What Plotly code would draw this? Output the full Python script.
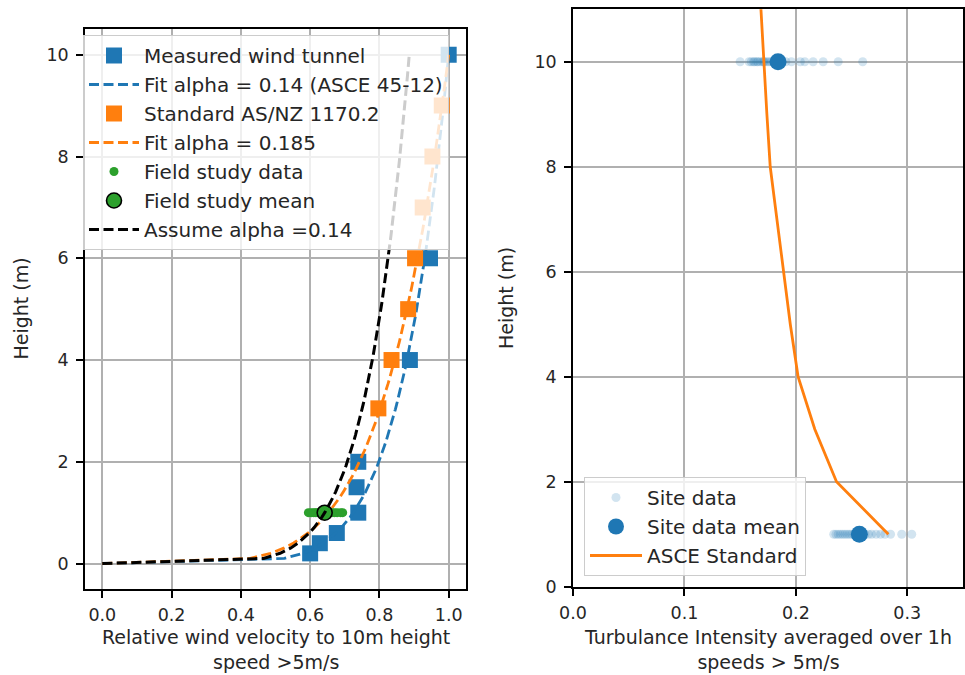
import numpy as np
import plotly.graph_objects as go

BLUE = "#1f77b4"
ORANGE = "#ff7f0e"
GREEN = "#2ca02c"
GRID = "#b0b0b0"
FONT = "DejaVu Sans"

# ---- Left panel: wind velocity profile ----
tunnel_height = [0.2, 0.4, 0.6, 1.0, 1.5, 2.0, 4.0, 6.0, 10.0]
tunnel_velocity = [0.600, 0.628, 0.677, 0.739, 0.734, 0.739, 0.888, 0.946, 1.0]

standard_height = [3.05, 4.0, 5.0, 6.0, 7.0, 8.0, 9.0]
standard_velocity = [0.797, 0.835, 0.883, 0.903, 0.925, 0.953, 0.980]

field_height = 1.0
field_velocity = [0.595, 0.603, 0.610, 0.615, 0.620, 0.625, 0.630, 0.635, 0.638,
                  0.642, 0.645, 0.648, 0.652, 0.657, 0.663, 0.670, 0.678, 0.688, 0.694]
field_mean_velocity = 0.642

alpha_tunnel = 0.14
alpha_standard = 0.185
alpha_assumed = 0.14
ref_height = 10.0
fit_height = np.linspace(0, 10, 100)

# ---- Right panel: turbulence intensity ----
ti_high_height = 10.0
ti_high = [0.150, 0.158, 0.160, 0.162, 0.163, 0.165, 0.166, 0.168, 0.170, 0.171,
           0.172, 0.174, 0.176, 0.178, 0.180, 0.182, 0.186, 0.188, 0.191, 0.196,
           0.204, 0.208, 0.2155, 0.2245, 0.238, 0.260]
ti_high_mean = 0.184

ti_low_height = 1.0
ti_low = [0.234, 0.236, 0.238, 0.240, 0.242, 0.244, 0.246, 0.248, 0.250, 0.252,
          0.254, 0.256, 0.258, 0.260, 0.262, 0.265, 0.268, 0.272, 0.276, 0.280,
          0.285, 0.295, 0.304]
ti_low_mean = 0.257

asce_height = [1, 2, 3, 4, 5, 6, 7, 8, 9, 10, 11, 12]
asce_ti = [0.283, 0.2365, 0.217, 0.202, 0.195, 0.189, 0.1825, 0.177, 0.174, 0.171, 0.168, 0.166]

x_ticks_left = [0.0, 0.2, 0.4, 0.6, 0.8, 1.0]
y_ticks = [0, 2, 4, 6, 8, 10]
x_ticks_right = [0.0, 0.1, 0.2, 0.3]

W, H = 965, 675
DASH = "10px,4.5px"

fig = go.Figure()

# left panel traces
fig.add_trace(go.Scatter(
    x=tunnel_velocity, y=tunnel_height, mode="markers", name="Measured wind tunnel",
    marker=dict(symbol="square", size=16, color=BLUE), xaxis="x", yaxis="y", legend="legend"))
fit_t = (fit_height / ref_height) ** alpha_tunnel
fig.add_trace(go.Scatter(
    x=fit_t, y=fit_height, mode="lines", name="Fit alpha = 0.14 (ASCE 45-12)",
    line=dict(color=BLUE, width=2.8, dash=DASH), xaxis="x", yaxis="y", legend="legend"))
fig.add_trace(go.Scatter(
    x=standard_velocity, y=standard_height, mode="markers", name="Standard AS/NZ 1170.2",
    marker=dict(symbol="square", size=16, color=ORANGE), xaxis="x", yaxis="y", legend="legend"))
fit_s = (fit_height / ref_height) ** alpha_standard
fig.add_trace(go.Scatter(
    x=fit_s, y=fit_height, mode="lines", name="Fit alpha = 0.185",
    line=dict(color=ORANGE, width=2.8, dash=DASH), xaxis="x", yaxis="y", legend="legend"))
fig.add_trace(go.Scatter(
    x=field_velocity, y=[field_height] * len(field_velocity), mode="markers",
    name="Field study data", marker=dict(size=9, color=GREEN),
    xaxis="x", yaxis="y", legend="legend"))
fig.add_trace(go.Scatter(
    x=[field_mean_velocity], y=[field_height], mode="markers", name="Field study mean",
    marker=dict(size=15, color=GREEN, line=dict(color="black", width=1.6)),
    xaxis="x", yaxis="y", legend="legend"))
fit_a = field_mean_velocity * (fit_height / field_height) ** alpha_assumed
fig.add_trace(go.Scatter(
    x=fit_a, y=fit_height, mode="lines", name="Assume alpha =0.14",
    line=dict(color="black", width=3.0, dash=DASH), xaxis="x", yaxis="y", legend="legend"))

# right panel traces
site_x = ti_high + ti_low
site_y = [ti_high_height] * len(ti_high) + [ti_low_height] * len(ti_low)
fig.add_trace(go.Scatter(
    x=site_x, y=site_y, mode="markers", name="Site data",
    marker=dict(size=9, color="rgba(31,119,180,0.2)"),
    xaxis="x2", yaxis="y2", legend="legend2"))
fig.add_trace(go.Scatter(
    x=[ti_high_mean, ti_low_mean], y=[ti_high_height, ti_low_height], mode="markers",
    name="Site data mean", marker=dict(size=17, color=BLUE),
    xaxis="x2", yaxis="y2", legend="legend2"))
fig.add_trace(go.Scatter(
    x=asce_ti, y=asce_height, mode="lines", name="ASCE Standard",
    line=dict(color=ORANGE, width=2.8), xaxis="x2", yaxis="y2", legend="legend2"))


def px_x(p):
    return p / W


def px_y(p):
    return 1 - p / H


axis_common = dict(
    showgrid=True, gridcolor=GRID, gridwidth=1.5,
    showline=True, linecolor="black", linewidth=1.6, mirror=True,
    ticks="outside", ticklen=7, tickwidth=1.5, tickcolor="black",
    zeroline=False, automargin=False,
    tickfont=dict(family=FONT, size=17.5, color="#262626"),
)

legend_common = dict(
    bgcolor="rgba(255,255,255,0.8)", bordercolor="#cccccc", borderwidth=1,
    font=dict(family=FONT, size=20, color="#262626"),
)

fig.update_layout(
    width=W, height=H,
    margin=dict(l=0, r=0, t=0, b=0),
    paper_bgcolor="white", plot_bgcolor="white",
    font=dict(family=FONT, size=20, color="#262626"),
    xaxis=dict(domain=[px_x(85), px_x(466)], range=[-0.05, 1.05],
               tickvals=x_ticks_left, tickformat=".1f", anchor="y",
               ticklabelstandoff=2, **axis_common),
    yaxis=dict(domain=[px_y(589), px_y(29.3)], range=[-0.5, 10.5],
               tickvals=y_ticks, anchor="x", ticklabelstandoff=4, **axis_common),
    xaxis2=dict(domain=[px_x(573), px_x(963)], range=[0, 0.35],
                tickvals=x_ticks_right, tickformat=".1f", anchor="y2",
                ticklabelstandoff=2, **axis_common),
    yaxis2=dict(domain=[px_y(586.7), px_y(9.3)], range=[0, 11],
                tickvals=y_ticks, anchor="x2", ticklabelstandoff=4, **axis_common),
    legend=dict(x=px_x(83), y=px_y(35), xanchor="left", yanchor="top",
                itemwidth=50, **legend_common),
    legend2=dict(x=px_x(584), y=px_y(576), xanchor="left", yanchor="bottom",
                 itemwidth=52, **legend_common),
    showlegend=True,
)

# axis titles
title_font = dict(family=FONT, size=19, color="#262626")
titles = [
    ("Relative wind velocity to 10m height<br>speed >5m/s", (85 + 466) / 2, 649.5, 0),
    ("Turbulance Intensity averaged over 1h<br>speeds > 5m/s", (573 + 963) / 2, 649.5, 0),
    ("Height (m)", 20.5, 309, -90),
    ("Height (m)", 506, 298, -90),
]
for text, xp, yp, ang in titles:
    fig.add_annotation(text=text, x=px_x(xp), y=px_y(yp), xref="paper", yref="paper",
                       xanchor="center", yanchor="middle", showarrow=False,
                       textangle=ang, font=title_font, borderpad=0)

fig.write_html("out.html")
